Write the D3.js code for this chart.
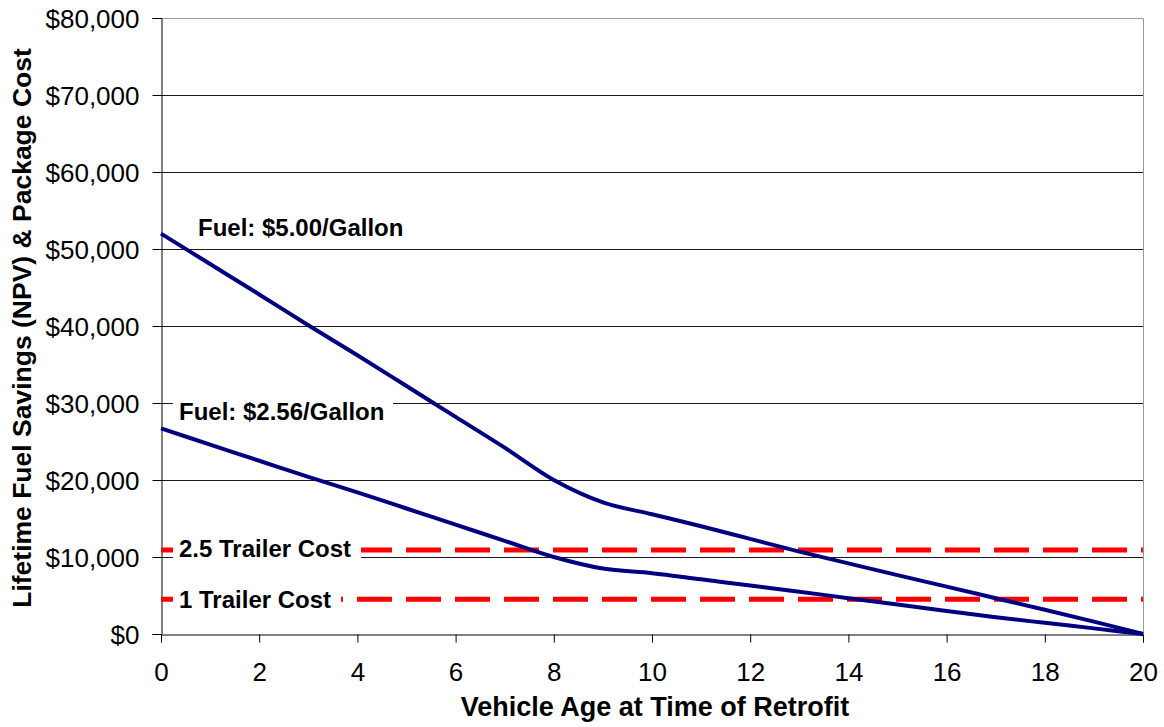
<!DOCTYPE html>
<html>
<head>
<meta charset="utf-8">
<script src="https://cdn.jsdelivr.net/npm/d3@7"></script>
<style>
  body { margin: 0; background: #fff; }
  text { font-family: "Liberation Sans", Arial, sans-serif; fill: #000; }
</style>
</head>
<body>
<script>
'use strict';

// vehicle age (years) at time of retrofit
const ages = [0, 1, 2, 3, 4, 5, 6, 7, 8, 9, 10, 11, 12, 13, 14, 15, 16, 17, 18, 19, 20];

// lifetime fuel savings (NPV)
const savings500 = [52000, 48050, 44100, 40100, 36200, 32200, 28200, 24200, 20000, 17100, 15550,
  14000, 12350, 10700, 9170, 7640, 6150, 4650, 3150, 1600, 0];
const savings256 = [26700, 24600, 22500, 20400, 18400, 16300, 14200, 12100, 10000, 8500, 7900,
  7100, 6300, 5500, 4650, 3830, 3000, 2180, 1450, 730, 0];

// package costs (horizontal dashed lines)
const costNames = ["2.5 Trailer Cost", "1 Trailer Cost"];
const costValues = [10900, 4500];

const seriesNames = ["Fuel: $5.00/Gallon", "Fuel: $2.56/Gallon"];

const xTicks = [0, 2, 4, 6, 8, 10, 12, 14, 16, 18, 20];
const yTicks = [0, 10000, 20000, 30000, 40000, 50000, 60000, 70000, 80000];

const W = 1164, H = 727;
const plot = { left: 161, right: 1143, top: 18, bottom: 634 };

const svg = d3.select('body')
  .append('svg')
  .attr('width', W)
  .attr('height', H);

const x = d3.scaleLinear().domain([0, 20]).range([plot.left, plot.right]);
const y = d3.scaleLinear().domain([0, 80000]).range([plot.bottom, plot.top]);

// horizontal gridlines
svg.append('g')
  .selectAll('line')
  .data(yTicks.filter(d => d > 0 && d < 80000))
  .enter()
  .append('line')
  .attr('x1', plot.left)
  .attr('x2', plot.right)
  .attr('y1', d => Math.round(y(d)) + 0.5)
  .attr('y2', d => Math.round(y(d)) + 0.5)
  .attr('stroke', '#1a1a1a')
  .attr('stroke-width', 1);

// light frame top/right
svg.append('path')
  .attr('d', `M${plot.left},${plot.top + 0.5}H${plot.right + 0.5}V${plot.bottom}`)
  .attr('fill', 'none')
  .attr('stroke', '#999')
  .attr('stroke-width', 1);

// axes
const fmt = d => '$' + d3.format(',')(d);

const yAxis = svg.append('g')
  .attr('transform', `translate(${plot.left + 0.5},0)`)
  .call(d3.axisLeft(y).tickValues(yTicks).tickFormat(fmt).tickSize(9).tickPadding(13));

const xAxis = svg.append('g')
  .attr('transform', `translate(0,${plot.bottom + 0.5})`)
  .call(d3.axisBottom(x).tickValues(xTicks).tickSize(8).tickPadding(20));

[yAxis, xAxis].forEach(g => {
  g.select('.domain').attr('stroke', '#000');
  g.selectAll('.tick line').attr('stroke', '#000');
  g.selectAll('.tick text')
    .style('font-family', '"Liberation Sans", Arial, sans-serif')
    .style('font-size', '26px')
    .attr('fill', '#000');
});
yAxis.selectAll('.tick text').attr('dy', '0.36em');
xAxis.selectAll('.tick text').attr('dy', '0.71em');

// cost lines (dashed red)
svg.append('g')
  .selectAll('line')
  .data(costValues)
  .enter()
  .append('line')
  .attr('x1', x(0))
  .attr('x2', x(20))
  .attr('y1', d => y(d))
  .attr('y2', d => y(d))
  .attr('stroke', '#ff0000')
  .attr('stroke-width', 5)
  .attr('stroke-dasharray', '35,14');

// savings curves
const line = d3.line()
  .x((d, i) => x(ages[i]))
  .y(d => y(d))
  .curve(d3.curveCatmullRom);

svg.append('g')
  .selectAll('path')
  .data([savings500, savings256])
  .enter()
  .append('path')
  .attr('d', line)
  .attr('fill', 'none')
  .attr('stroke', '#000080')
  .attr('stroke-width', 4)
  .attr('stroke-linejoin', 'round');

// labels with white boxes
function boxLabel(txt, bx, bw, by, bh, tx, ty) {
  svg.append('rect')
    .attr('x', bx).attr('y', by)
    .attr('width', bw).attr('height', bh)
    .attr('fill', '#fff');
  svg.append('text')
    .attr('x', tx).attr('y', ty)
    .style('font-size', '24px')
    .style('font-weight', 'bold')
    .text(txt);
}

boxLabel(seriesNames[0], 190, 222, 214, 28, 198, 236);
boxLabel(seriesNames[1], 173, 220, 396, 30, 179, 420);
boxLabel(costNames[0], 173, 188, 537, 26, 179, 557);
boxLabel(costNames[1], 173, 168, 588, 26, 179, 608);

// axis titles
svg.append('text')
  .attr('x', (plot.left + plot.right) / 2 + 3)
  .attr('y', 716)
  .attr('text-anchor', 'middle')
  .style('font-size', '27px')
  .style('font-weight', 'bold')
  .text('Vehicle Age at Time of Retrofit');

svg.append('text')
  .attr('transform', `translate(31, ${(plot.top + plot.bottom) / 2 + 2}) rotate(-90)`)
  .attr('text-anchor', 'middle')
  .style('font-size', '26.5px')
  .style('font-weight', 'bold')
  .text('Lifetime Fuel Savings (NPV) & Package Cost');
</script>
</body>
</html>
